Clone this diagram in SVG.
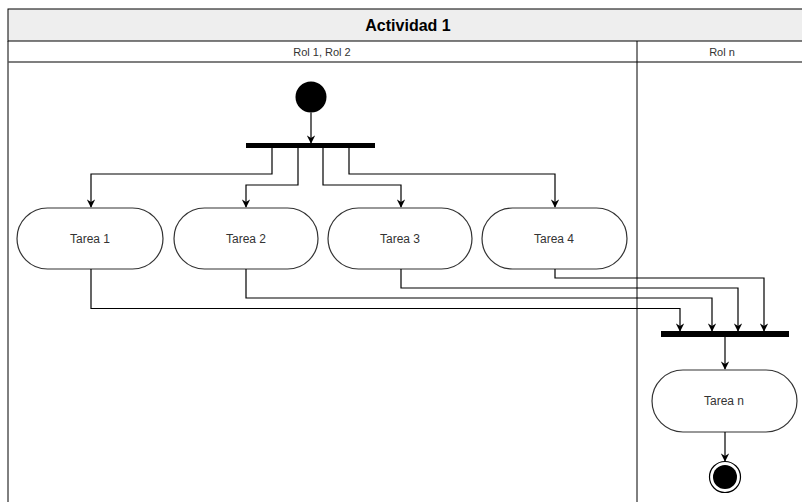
<svg xmlns="http://www.w3.org/2000/svg" width="802" height="502" viewBox="0 0 802 502">
  <style>
    .lane { fill: none; stroke: #000; stroke-width: 1; }
    .title { font-family: "Liberation Sans", Arial, sans-serif; font-size: 16px; font-weight: bold; fill: #000; }
    .role { font-family: "Liberation Sans", Arial, sans-serif; font-size: 11px; fill: #333; }
    .task rect { fill: #fff; stroke: #333; stroke-width: 1.2; }
    .task text { font-family: "Liberation Sans", Arial, sans-serif; font-size: 12px; fill: #333; }
    .bar { fill: #000; }
    .edge { fill: none; stroke: #000; stroke-width: 1.2; marker-end: url(#arrow); }
  </style>
  <defs>
    <marker id="arrow" viewBox="0 0 10 10" refX="9" refY="5" markerWidth="8.5" markerHeight="8.5" markerUnits="userSpaceOnUse" orient="auto">
      <path d="M0,0 L10,5 L0,10 L3,5 Z" fill="#000"/>
    </marker>
  </defs>

  <rect width="802" height="502" fill="#fff"/>

  <!-- swimlane frame -->
  <g id="pool">
    <rect x="8" y="9" width="810" height="32" fill="#eeeeee" stroke="#000" stroke-width="1"/>
    <text class="title" x="408" y="31" text-anchor="middle">Actividad 1</text>
    <line class="lane" x1="8" y1="41" x2="8" y2="502"/>
    <line x1="8" y1="62" x2="802" y2="62" stroke="#555" stroke-width="1.6"/>
    <line class="lane" x1="637" y1="41" x2="637" y2="502"/>
    <text class="role" x="322" y="56" text-anchor="middle">Rol 1, Rol 2</text>
    <text class="role" x="722" y="56" text-anchor="middle">Rol n</text>
  </g>

  <!-- start node -->
  <g id="start">
    <circle cx="311" cy="97" r="15.5" fill="#000"/>
  </g>

  <!-- fork bar -->
  <g id="fork">
    <rect class="bar" x="246" y="143" width="129" height="5"/>
  </g>

  <g id="tarea1" class="task">
    <rect x="17" y="208" width="146" height="61" rx="30.5"/>
    <text x="90" y="243" text-anchor="middle">Tarea 1</text>
  </g>
  <g id="tarea2" class="task">
    <rect x="174" y="208" width="144" height="61" rx="30.5"/>
    <text x="246" y="243" text-anchor="middle">Tarea 2</text>
  </g>
  <g id="tarea3" class="task">
    <rect x="328" y="208" width="144" height="61" rx="30.5"/>
    <text x="400" y="243" text-anchor="middle">Tarea 3</text>
  </g>
  <g id="tarea4" class="task">
    <rect x="482" y="208" width="145" height="61" rx="30.5"/>
    <text x="554" y="243" text-anchor="middle">Tarea 4</text>
  </g>

  <!-- join bar -->
  <g id="join">
    <rect class="bar" x="661" y="331" width="128" height="6"/>
  </g>

  <g id="tareaN" class="task">
    <rect x="652" y="370" width="145" height="62" rx="31"/>
    <text x="724" y="405" text-anchor="middle">Tarea n</text>
  </g>

  <!-- end node -->
  <g id="end">
    <circle cx="725" cy="477" r="15.5" fill="#fff" stroke="#000" stroke-width="1.2"/>
    <circle cx="725" cy="477" r="12" fill="#000"/>
  </g>

  <!-- connectors -->
  <g id="connectors">
    <path class="edge" d="M311,112.5 V143"/>
    <path class="edge" d="M272,148 V174 H91 V207"/>
    <path class="edge" d="M298,148 V185 H246 V207"/>
    <path class="edge" d="M323,148 V185 H401 V207"/>
    <path class="edge" d="M349,148 V174 H555 V207"/>
    <path class="edge" d="M91,269 V308.5 H680 V331"/>
    <path class="edge" d="M246,269 V298 H712 V331"/>
    <path class="edge" d="M401,269 V288 H738 V331"/>
    <path class="edge" d="M555,269 V278 H764 V331"/>
    <path class="edge" d="M725,337 V369"/>
    <path class="edge" d="M725,432 V461"/>
  </g>
</svg>
